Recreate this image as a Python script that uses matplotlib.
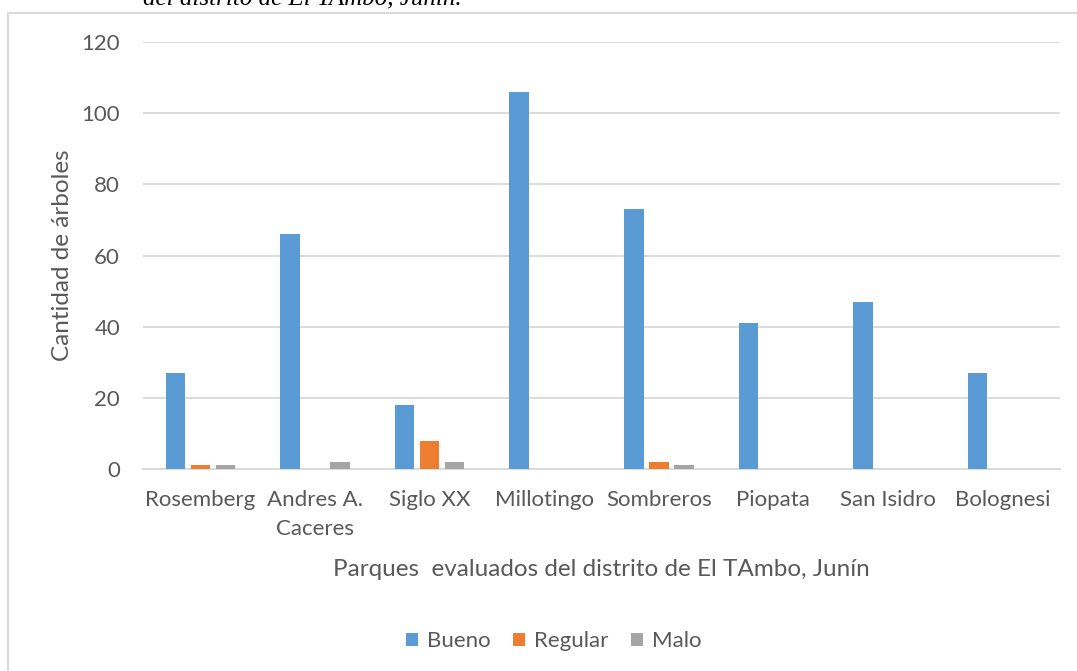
import numpy as np
import matplotlib.pyplot as plt
from matplotlib.patches import Rectangle

# Parques evaluados y estado de los árboles
parques = ['Rosemberg', 'Andres A.\nCaceres', 'Siglo XX', 'Millotingo',
           'Sombreros', 'Piopata', 'San Isidro', 'Bolognesi']
bueno = [27, 66, 18, 106, 73, 41, 47, 27]
regular = [1, 0, 8, 0, 2, 0, 0, 0]
malo = [1, 2, 2, 0, 1, 0, 0, 0]

colores = ['#5B9BD5', '#ED7D31', '#A5A5A5']
gris_texto = '#595959'

plt.rcParams['font.family'] = ['Lato', 'DejaVu Sans']

fig = plt.figure(figsize=(10.77, 6.71), dpi=100)
ax = fig.add_axes([0.1328, 0.3010, 0.8514, 0.6364])

x = np.arange(len(parques))
w = 0.17
paso = 0.218
ax.bar(x - paso, bueno, w, color=colores[0], label='Bueno', zorder=3)
ax.bar(x, regular, w, color=colores[1], label='Regular', zorder=3)
ax.bar(x + paso, malo, w, color=colores[2], label='Malo', zorder=3)

ax.set_xlim(-0.5, len(parques) - 0.5)
ax.set_ylim(0, 120)
ax.set_yticks(range(0, 121, 20))
ax.yaxis.grid(True, color='#D9D9D9', linewidth=1.3, zorder=0)
ax.set_axisbelow(True)
for s in ['top', 'right', 'left']:
    ax.spines[s].set_visible(False)
ax.spines['bottom'].set_color('#D9D9D9')
ax.spines['bottom'].set_linewidth(1.3)

ax.set_xticks(x)
ax.set_xticklabels(parques, fontsize=16, color=gris_texto, linespacing=1.55)
ax.tick_params(axis='x', length=0, pad=15)
ax.tick_params(axis='y', length=0, pad=16.5, labelsize=16, labelcolor=gris_texto)

ax.set_ylabel('Cantidad de árboles', fontsize=17.5, color=gris_texto, labelpad=6)
ax.set_xlabel('Parques  evaluados del distrito de El TAmbo, Junín',
              fontsize=17.5, color=gris_texto, labelpad=15)

ax.legend(loc='center', bbox_to_anchor=(0.4477, -0.403), ncol=3,
          frameon=False, fontsize=16, handlelength=0.55, handleheight=0.55,
          handletextpad=0.4, columnspacing=1.0, labelcolor=gris_texto)

# marco del gráfico y título recortado arriba
fig.patches.append(Rectangle((8 / 1077, -0.1), 1.2, 1 - 13 / 671 + 0.1,
                             transform=fig.transFigure, fill=False,
                             edgecolor='#D9D9D9', linewidth=1.5))
fig.text(143 / 1077, 1 - 4 / 671, 'del distrito de El TAmbo, Junín.',
         fontsize=18, family='Liberation Serif', style='italic',
         va='baseline', ha='left', color='black')

fig.savefig('out.png', dpi=100)
